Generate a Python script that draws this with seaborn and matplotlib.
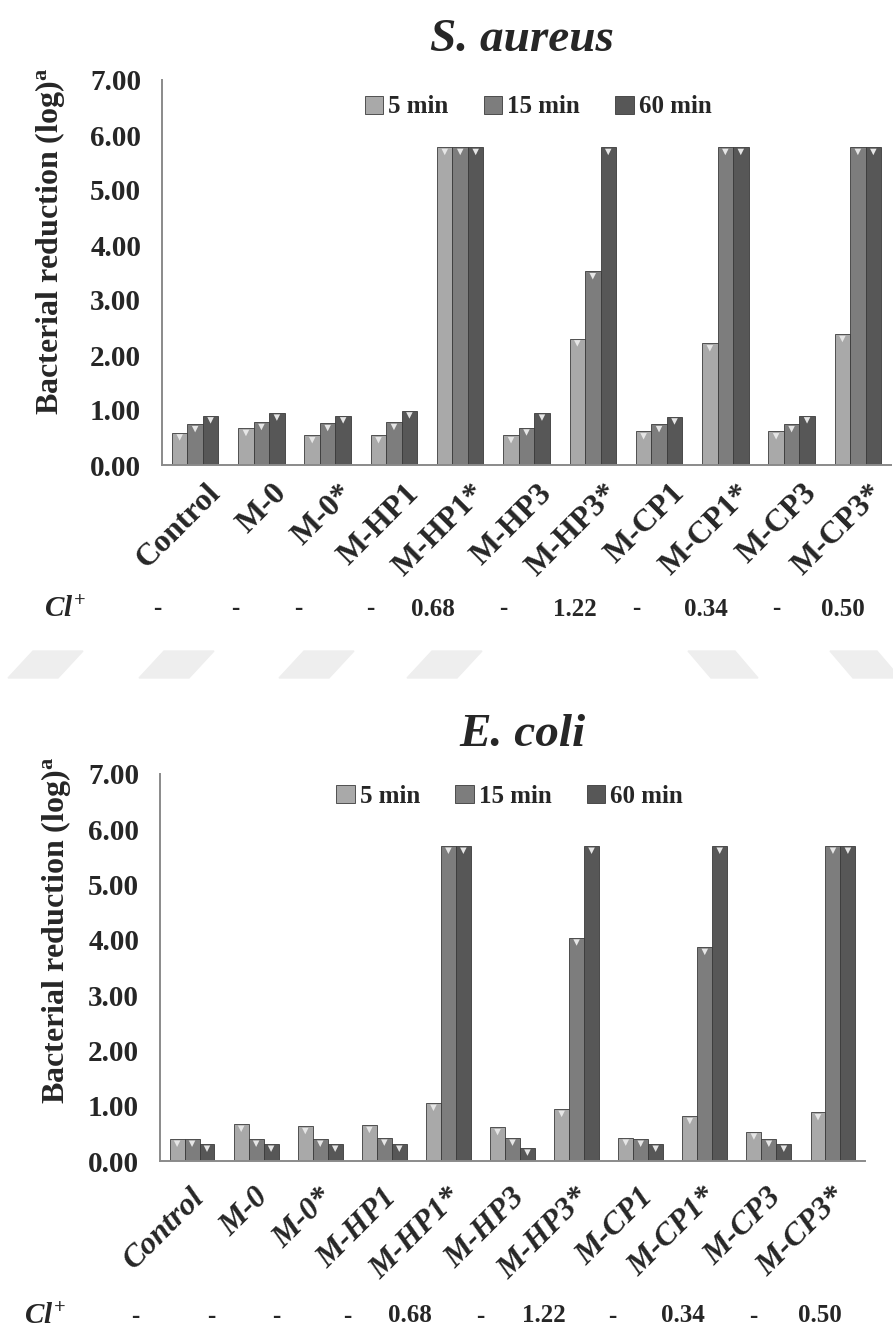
"""
Bacterial reduction - S. aureus / E. coli grouped bars
"""

import numpy as np
import pandas as pd
import seaborn as sns
import matplotlib.pyplot as plt
from matplotlib.patches import Polygon
from matplotlib.transforms import ScaledTranslation

sns.set_style('white')
plt.rcParams['font.family'] = ['Liberation Serif', 'DejaVu Serif']
plt.rcParams['font.weight'] = 'bold'
plt.rcParams['mathtext.fontset'] = 'custom'
plt.rcParams['mathtext.rm'] = 'Liberation Serif'
plt.rcParams['mathtext.it'] = 'Liberation Serif:italic'
plt.rcParams['mathtext.bf'] = 'Liberation Serif:bold'

# Data

samples = ['Control', 'M-0', 'M-0*', 'M-HP1', 'M-HP1*', 'M-HP3', 'M-HP3*',
           'M-CP1', 'M-CP1*', 'M-CP3', 'M-CP3*']
times = ['5 min', '15 min', '60 min']
cl_values = ['-', '-', '-', '-', '0.68', '-', '1.22', '-', '0.34', '-', '0.50']

aureus_5 = [0.59, 0.67, 0.54, 0.54, 5.78, 0.54, 2.30, 0.61, 2.21, 0.61, 2.38]
aureus_15 = [0.74, 0.78, 0.76, 0.78, 5.78, 0.68, 3.52, 0.74, 5.78, 0.74, 5.78]
aureus_60 = [0.90, 0.95, 0.90, 0.99, 5.78, 0.95, 5.78, 0.88, 5.78, 0.90, 5.78]

coli_5 = [0.40, 0.67, 0.63, 0.65, 1.05, 0.61, 0.94, 0.42, 0.81, 0.53, 0.88]
coli_15 = [0.40, 0.40, 0.40, 0.42, 5.70, 0.42, 4.04, 0.40, 3.87, 0.40, 5.70]
coli_60 = [0.31, 0.31, 0.31, 0.31, 5.70, 0.24, 5.70, 0.31, 5.70, 0.31, 5.70]

palette = ['#a9a9a9', '#7d7d7d', '#575757']


def long_df(s5, s15, s60):
    rows = []
    for t, vals in zip(times, [s5, s15, s60]):
        for s, v in zip(samples, vals):
            rows.append({'Sample': s, 'Time': t, 'Reduction': v})
    return pd.DataFrame(rows)


fig = plt.figure(figsize=(8.93, 13.28), dpi=100)
W, H = 893, 1328


def fx(px):
    return px / W


def fy(py):
    return 1 - py / H


def draw_panel(df, box, title, title_y, leg_xy, ylab_xy, lab_shift, cl_x, cl_y,
               label_italic):
    left, right, top, bottom = box
    ax = fig.add_axes([fx(left), fy(bottom), fx(right - left), (bottom - top) / H])
    sns.barplot(data=df, x='Sample', y='Reduction', hue='Time', palette=palette,
                width=0.7, edgecolor='#3a3a3a', linewidth=0.6, ax=ax, saturation=1)
    # little bevel triangles on bar tops
    off = ScaledTranslation(0, -3.5 / 72, fig.dpi_scale_trans)
    for p in ax.patches:
        if p.get_height() > 0:
            ax.scatter(p.get_x() + p.get_width() / 2, p.get_height(), marker='v',
                       s=22, color='#e6e6e6', edgecolor='none', zorder=5,
                       transform=ax.transData + off)
    ax.set_ylim(0, 7)
    ax.set_xlim(-0.5, len(samples) - 0.5)
    ax.set_yticks(np.arange(0, 8, 1))
    ax.set_yticklabels(['%.2f' % v for v in np.arange(0, 8, 1)], fontsize=21,
                       fontweight='bold')
    ax.set_xticks(range(len(samples)))
    ax.set_xticklabels([])
    ax.set_xticks(np.arange(-0.5, len(samples), 1), minor=True)
    ax.tick_params(axis='x', which='major', length=0)
    ax.tick_params(axis='x', which='minor', length=7, color='#8a8a8a', width=1.2)
    ax.tick_params(axis='y', length=6, color='#8a8a8a', width=1.2, pad=9)
    for sp in ['top', 'right']:
        ax.spines[sp].set_visible(False)
    for sp in ['left', 'bottom']:
        ax.spines[sp].set_color('#8a8a8a')
        ax.spines[sp].set_linewidth(1.4)
    ax.set_xlabel('')
    ax.set_ylabel(r'Bacterial reduction (log)$^{\mathbf{a}}$', fontsize=23,
                  fontweight='bold')
    ax.yaxis.set_label_coords(*ylab_xy)

    # rotated category labels
    lab_off = ScaledTranslation(lab_shift[0] / 100, lab_shift[1] / 100,
                                fig.dpi_scale_trans)
    for i, s in enumerate(samples):
        ax.text(i, 0, s, transform=ax.transData + lab_off, rotation=45,
                rotation_mode='anchor', ha='right', va='center', fontsize=23,
                fontweight='bold', style='italic' if label_italic else 'normal',
                clip_on=False)

    h, l = ax.get_legend_handles_labels()
    ax.legend(h, l, loc='center', bbox_to_anchor=leg_xy, ncol=3, frameon=False,
              prop={'size': 18, 'weight': 'bold'}, handlelength=0.75,
              handleheight=0.75, handletextpad=0.2, columnspacing=1.4)

    fig.text(fx(522), fy(title_y), title, ha='center', va='center', fontsize=34,
             fontweight='bold', style='italic')

    # Cl+ row
    fig.text(fx(cl_x[0]), fy(cl_y), r'$Cl^{+}$', ha='center', va='center',
             fontsize=21)
    for x, v in zip(cl_x[1:], cl_values):
        fig.text(fx(x), fy(cl_y), v, ha='center', va='center', fontsize=18,
                 fontweight='bold')
    return ax


draw_panel(long_df(aureus_5, aureus_15, aureus_60), (162, 891, 80, 465),
           'S. aureus', 40, (0.516, 0.93), (-0.13, 0.58), (21, -24),
           [65, 157, 235, 298, 370, 433, 503, 575, 636, 706, 776, 843], 609, False)

draw_panel(long_df(coli_5, coli_15, coli_60), (160, 865, 774, 1161),
           'E. coli', 735, (0.496, 0.943), (-0.123, 0.597), (8, -32),
           [45, 135, 211, 276, 347, 410, 480, 544, 612, 683, 753, 820], 1316, True)

# faint watermark shapes between the panels
for xb in [8, 139, 279, 407]:
    pts = [(xb, 678), (xb + 50, 678), (xb + 75, 651), (xb + 25, 651)]
    fig.patches.append(Polygon([(fx(a), fy(b)) for a, b in pts], closed=True,
                               transform=fig.transFigure, color='#eeeeee',
                               zorder=0))
for xt in [688, 830]:
    pts = [(xt, 651), (xt + 47, 651), (xt + 70, 678), (xt + 23, 678)]
    fig.patches.append(Polygon([(fx(a), fy(b)) for a, b in pts], closed=True,
                               transform=fig.transFigure, color='#eeeeee',
                               zorder=0))

plt.savefig('out.png', dpi=100)
